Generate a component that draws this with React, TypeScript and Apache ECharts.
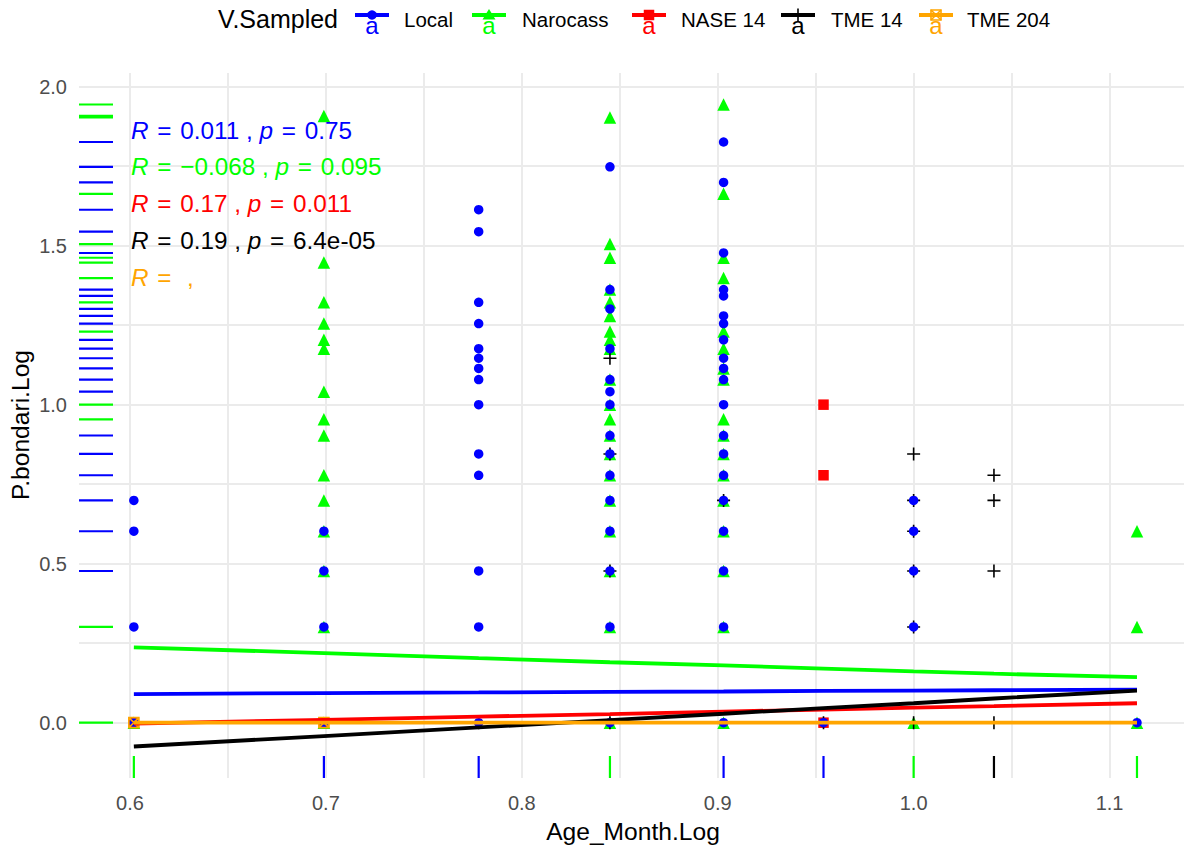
import React, { useEffect, useRef } from "react";
import * as echarts from "echarts";

const FONT = "'Liberation Sans', Arial, Helvetica, sans-serif";

const groupNames = ["Local", "Narocass", "NASE 14", "TME 14", "TME 204"];
const groupColors = ["#0000FF", "#00FF00", "#FF0000", "#000000", "#FFA500"];

// Scatter points [Age_Month.Log, P.bondari.Log]
const localPoints: number[][] = [
  [0.602, 0], [0.602, 0.301], [0.602, 0.602], [0.602, 0.699],
  [0.699, 0], [0.699, 0.301], [0.699, 0.477], [0.699, 0.602],
  [0.778, 0], [0.778, 0.301], [0.778, 0.477], [0.778, 0.778], [0.778, 0.845], [0.778, 1.0], [0.778, 1.079],
  [0.778, 1.114], [0.778, 1.146], [0.778, 1.176], [0.778, 1.255], [0.778, 1.322], [0.778, 1.544], [0.778, 1.613],
  [0.845, 0], [0.845, 0.301], [0.845, 0.477], [0.845, 0.602], [0.845, 0.699], [0.845, 0.778], [0.845, 0.845],
  [0.845, 0.903], [0.845, 1.0], [0.845, 1.041], [0.845, 1.079], [0.845, 1.176], [0.845, 1.301], [0.845, 1.362], [0.845, 1.748],
  [0.903, 0], [0.903, 0.301], [0.903, 0.477], [0.903, 0.602], [0.903, 0.699], [0.903, 0.778], [0.903, 0.845],
  [0.903, 0.903], [0.903, 1.0], [0.903, 1.079], [0.903, 1.114], [0.903, 1.146], [0.903, 1.204], [0.903, 1.255],
  [0.903, 1.279], [0.903, 1.342], [0.903, 1.362], [0.903, 1.477], [0.903, 1.699], [0.903, 1.826],
  [0.954, 0],
  [1.0, 0.301], [1.0, 0.477], [1.0, 0.602], [1.0, 0.699],
  [1.114, 0],
];
const narocassPoints: number[][] = [
  [0.602, 0],
  [0.699, 0], [0.699, 0.301], [0.699, 0.477], [0.699, 0.602], [0.699, 0.699], [0.699, 0.778], [0.699, 0.903],
  [0.699, 0.954], [0.699, 1.041], [0.699, 1.176], [0.699, 1.204], [0.699, 1.255], [0.699, 1.322], [0.699, 1.447], [0.699, 1.908],
  [0.845, 0], [0.845, 0.301], [0.845, 0.477], [0.845, 0.602], [0.845, 0.699], [0.845, 0.778], [0.845, 0.845],
  [0.845, 0.903], [0.845, 0.954], [0.845, 1.0], [0.845, 1.079], [0.845, 1.176], [0.845, 1.204], [0.845, 1.23],
  [0.845, 1.279], [0.845, 1.322], [0.845, 1.362], [0.845, 1.462], [0.845, 1.505], [0.845, 1.903],
  [0.903, 0], [0.903, 0.301], [0.903, 0.477], [0.903, 0.602], [0.903, 0.699], [0.903, 0.778], [0.903, 0.845],
  [0.903, 0.903], [0.903, 0.954], [0.903, 1.079], [0.903, 1.114], [0.903, 1.176], [0.903, 1.23], [0.903, 1.398],
  [0.903, 1.462], [0.903, 1.663], [0.903, 1.944],
  [1.0, 0],
  [1.114, 0], [1.114, 0.301], [1.114, 0.602],
];
const nase14Points: number[][] = [
  [0.602, 0], [0.699, 0], [0.954, 0], [0.954, 0.778], [0.954, 1.0],
];
const tme14Points: number[][] = [
  [0.778, 0], [0.845, 0], [0.845, 0.477], [0.845, 0.845], [0.845, 1.146], [0.903, 0.699],
  [0.954, 0], [1.0, 0], [1.0, 0.301], [1.0, 0.477], [1.0, 0.602], [1.0, 0.699], [1.0, 0.845],
  [1.041, 0], [1.041, 0.477], [1.041, 0.699], [1.041, 0.778],
];
const tme204Points: number[][] = [
  [0.602, 0], [0.699, 0],
];

// Fitted (smooth) lines
const smoothX = [0.602, 0.699, 0.778, 0.845, 0.903, 0.954, 1.0, 1.041, 1.114];
const smoothLocal = [0.090, 0.093, 0.095, 0.097, 0.098, 0.100, 0.101, 0.102, 0.104];
const smoothNarocass = [0.237, 0.219, 0.203, 0.190, 0.180, 0.170, 0.161, 0.154, 0.143];
const smoothNase14 = [-0.003, 0.009, 0.019, 0.027, 0.035, 0.041, 0.047, 0.052, 0.061];
const smoothTme14 = [-0.075, -0.042, -0.015, 0.008, 0.028, 0.046, 0.061, 0.076, 0.101];
const smoothTme204 = [0, 0, 0, 0, 0, 0, 0, 0, 0];

// Correlation labels
const corR = ["0.011", "\u22120.068", "0.17", "0.19", ""];
const corP = ["0.75", "0.095", "0.011", "6.4e-05", ""];

// Rugs: value and group index of the visible (top) mark
const rugYValues = [1.944, 1.908, 1.903, 1.826, 1.748, 1.699, 1.663, 1.613, 1.544, 1.505, 1.477, 1.462, 1.447,
  1.398, 1.362, 1.342, 1.322, 1.301, 1.279, 1.255, 1.23, 1.204, 1.176, 1.146, 1.114, 1.079, 1.041, 1.0, 0.954,
  0.903, 0.845, 0.778, 0.699, 0.602, 0.477, 0.301, 0];
const rugYGroups = [1, 1, 1, 0, 0, 0, 1, 0, 0, 1, 0, 1, 1,
  1, 0, 0, 1, 0, 0, 0, 1, 0, 0, 0, 0, 0, 0, 1, 1,
  0, 0, 0, 0, 0, 0, 1, 1];
const rugXValues = [0.602, 0.699, 0.778, 0.845, 0.903, 0.954, 1.0, 1.041, 1.114];
const rugXGroups = [1, 0, 0, 1, 0, 0, 1, 3, 1];

// Axis ticks
const xGridValues = [0.6, 0.65, 0.7, 0.75, 0.8, 0.85, 0.9, 0.95, 1.0, 1.05, 1.1];
const xLabelValues = [0.6, 0.7, 0.8, 0.9, 1.0, 1.1];
const yGridValues = [0, 0.25, 0.5, 0.75, 1.0, 1.25, 1.5, 1.75, 2.0];
const yLabelValues = [0, 0.5, 1.0, 1.5, 2.0];

const PLUS = "path://M6,0L6,12M0,6L12,6";
const SQCROSS = "path://M0,0L10,0L10,10L0,10ZM0,0L10,10M10,0L0,10";

export default function App() {
  const ref = useRef<HTMLDivElement>(null);
  useEffect(() => {
    if (!ref.current) return;
    const chart = echarts.init(ref.current, undefined, { renderer: "svg" });
    const pointSets = [localPoints, narocassPoints, nase14Points, tme14Points, tme204Points];
    const smoothSets = [smoothLocal, smoothNarocass, smoothNase14, smoothTme14, smoothTme204];
    const symbolOf = (i: number) => ["circle", "triangle", "rect", PLUS, SQCROSS][i];
    const sizeOf = (i: number) => [9.5, 12.5, 10.5, 13, 10][i];
    const pointOrder = [1, 2, 3, 0, 4];

    const scatterSeries = pointOrder.map((i) => {
      const outline = i === 3 || i === 4;
      return {
        type: "scatter",
        name: groupNames[i],
        data: pointSets[i],
        symbol: symbolOf(i),
        symbolSize: sizeOf(i),
        silent: true,
        itemStyle: outline
          ? { color: "rgba(0,0,0,0)", borderColor: groupColors[i], borderWidth: 1.6, opacity: 1 }
          : { color: groupColors[i], opacity: 1 },
        z: 2,
      };
    });

    const lineSeries = [0, 1, 2, 3, 4].map((i) => ({
      type: "line",
      name: groupNames[i] + " fit",
      data: smoothX.map((x, k) => [x, smoothSets[i][k]]),
      showSymbol: false,
      symbol: "none",
      silent: true,
      lineStyle: { color: groupColors[i], width: 3.8 },
      z: 3,
    }));

    const rugX = {
      type: "custom",
      silent: true,
      z: 4,
      data: rugXValues.map((v, k) => [v, 0, rugXGroups[k]]),
      encode: { x: 0, y: 1 },
      renderItem: (params: any, api: any) => {
        const cs = params.coordSys;
        const p = api.coord([api.value(0), 0]);
        const bottom = cs.y + cs.height;
        return {
          type: "line",
          shape: { x1: p[0], y1: bottom - 22, x2: p[0], y2: bottom },
          style: { stroke: groupColors[api.value(2)], lineWidth: 2.2 },
        };
      },
    };
    const rugY = {
      type: "custom",
      silent: true,
      z: 4,
      data: rugYValues.map((v, k) => [0.7, v, rugYGroups[k]]),
      encode: { x: 0, y: 1 },
      renderItem: (params: any, api: any) => {
        const cs = params.coordSys;
        const p = api.coord([0.7, api.value(1)]);
        return {
          type: "line",
          shape: { x1: cs.x, y1: p[1], x2: cs.x + 34, y2: p[1] },
          style: { stroke: groupColors[api.value(2)], lineWidth: 2.2 },
        };
      },
    };

    const graphics: any[] = [];
    const eq = "\u200A=\u200A";
    // correlation texts
    corR.forEach((r, i) => {
      const txt = r === "" && corP[i] === ""
        ? `{i|R} ${eq}  ,`
        : `{i|R} ${eq} ${r} , {i|p} ${eq} ${corP[i]}`;
      graphics.push({
        type: "text",
        x: 131,
        y: 130 + i * 36.8,
        z: 10,
        silent: true,
        style: {
          text: txt,
          fill: groupColors[i],
          fontSize: 24.3,
          fontFamily: FONT,
          verticalAlign: "middle",
          align: "left",
          rich: {
            i: { fontStyle: "italic", fontSize: 24.3, fontFamily: FONT, fill: groupColors[i] },
          },
        },
      });
    });
    // legend title
    graphics.push({
      type: "text",
      x: 218,
      y: 19,
      silent: true,
      style: { text: "V.Sampled", fill: "#000", fontSize: 25, fontFamily: FONT, verticalAlign: "middle" },
    });
    const keyX = [372, 489, 649, 798, 936];
    const labelX = [404, 522, 681, 831, 967];
    const ky = 15;
    groupNames.forEach((name, i) => {
      const c = groupColors[i];
      const cx = keyX[i];
      graphics.push({
        type: "line",
        silent: true,
        shape: { x1: cx - 17, y1: ky, x2: cx + 17, y2: ky },
        style: { stroke: c, lineWidth: 3.8 },
      });
      if (i === 0) {
        graphics.push({ type: "circle", silent: true, shape: { cx, cy: ky, r: 4.75 }, style: { fill: c } });
      } else if (i === 1) {
        graphics.push({
          type: "polygon", silent: true,
          shape: { points: [[cx, ky - 6], [cx + 6.5, ky + 4.5], [cx - 6.5, ky + 4.5]] },
          style: { fill: c },
        });
      } else if (i === 2) {
        graphics.push({ type: "rect", silent: true, shape: { x: cx - 5.25, y: ky - 5.25, width: 10.5, height: 10.5 }, style: { fill: c } });
      } else if (i === 3) {
        graphics.push({ type: "line", silent: true, shape: { x1: cx, y1: ky - 6.5, x2: cx, y2: ky + 6.5 }, style: { stroke: c, lineWidth: 1.6 } });
      } else {
        graphics.push({ type: "rect", silent: true, shape: { x: cx - 5, y: ky - 5, width: 10, height: 10 }, style: { fill: "none", stroke: c, lineWidth: 1.6 } });
        graphics.push({ type: "line", silent: true, shape: { x1: cx - 5, y1: ky - 5, x2: cx + 5, y2: ky + 5 }, style: { stroke: c, lineWidth: 1.6 } });
        graphics.push({ type: "line", silent: true, shape: { x1: cx + 5, y1: ky - 5, x2: cx - 5, y2: ky + 5 }, style: { stroke: c, lineWidth: 1.6 } });
      }
      graphics.push({
        type: "text", silent: true, x: cx, y: 25,
        style: { text: "a", fill: c, fontSize: 24, fontFamily: FONT, align: "center", verticalAlign: "middle" },
      });
      graphics.push({
        type: "text", silent: true, x: labelX[i], y: 19,
        style: { text: name, fill: "#000", fontSize: 20.5, fontFamily: FONT, verticalAlign: "middle" },
      });
    });
    // axis titles
    graphics.push({
      type: "text", silent: true, x: 633, y: 831,
      style: { text: "Age_Month.Log", fill: "#000", fontSize: 24.6, fontFamily: FONT, align: "center", verticalAlign: "middle" },
    });
    graphics.push({
      type: "text", silent: true, x: 20, y: 425, rotation: Math.PI / 2,
      style: { text: "P.bondari.Log", fill: "#000", fontSize: 24.6, fontFamily: FONT, align: "center", verticalAlign: "middle" },
    });

    chart.setOption({
      animation: false,
      backgroundColor: "#FFFFFF",
      textStyle: { fontFamily: FONT },
      grid: { left: 79, right: 0, top: 73, bottom: 70, containLabel: false },
      xAxis: {
        type: "value",
        min: 0.574,
        max: 1.138,
        axisLine: { show: false },
        axisTick: { show: false, customValues: xGridValues },
        axisLabel: {
          customValues: xLabelValues,
          formatter: (v: number) => v.toFixed(1),
          color: "#4D4D4D",
          fontSize: 20,
          fontFamily: FONT,
          margin: 15,
        },
        splitLine: { show: true, lineStyle: { color: "#EBEBEB", width: 2 } },
      },
      yAxis: {
        type: "value",
        min: -0.174,
        max: 2.043,
        axisLine: { show: false },
        axisTick: { show: false, customValues: yGridValues },
        axisLabel: {
          customValues: yLabelValues,
          formatter: (v: number) => v.toFixed(1),
          color: "#4D4D4D",
          fontSize: 20,
          fontFamily: FONT,
          margin: 12,
        },
        splitLine: { show: true, lineStyle: { color: "#EBEBEB", width: 2 } },
      },
      series: [...scatterSeries, ...lineSeries, rugX, rugY],
      graphic: graphics,
    });
    return () => chart.dispose();
  }, []);
  return (
    <div
      ref={ref}
      style={{ position: "fixed", left: 0, top: 0, width: 1184, height: 848, background: "#fff" }}
    />
  );
}
